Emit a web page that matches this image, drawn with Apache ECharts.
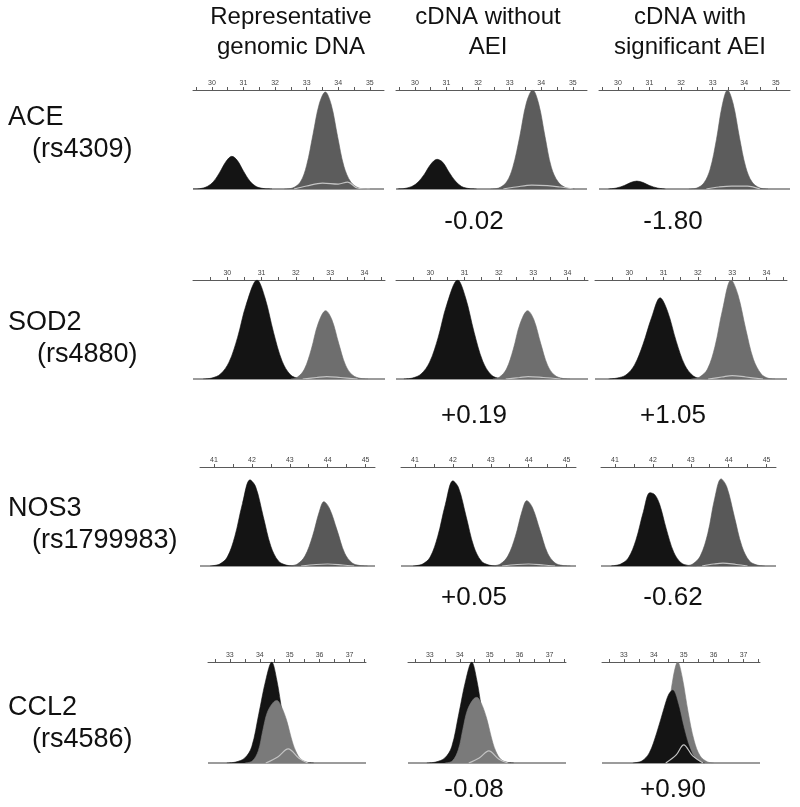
<!DOCTYPE html>
<html><head><meta charset="utf-8">
<script src="https://cdn.jsdelivr.net/npm/echarts@6/dist/echarts.min.js"></script>
<style>html,body{margin:0;padding:0;background:#fff}#c{width:800px;height:807px}</style>
</head><body><div id="c"></div><script>
// ---------- data ----------
const columns = ['Representative\ngenomic DNA', 'cDNA without\nAEI', 'cDNA with\nsignificant AEI'];
const genes = ['ACE', 'SOD2', 'NOS3', 'CCL2'];
const snps = ['(rs4309)', '(rs4880)', '(rs1799983)', '(rs4586)'];
const aeiWithout = ['-0.02', '+0.19', '+0.05', '-0.08'];
const aeiWith = ['-1.80', '+1.05', '-0.62', '+0.90'];
const axisRanges = [[29.4, 35.45], [29.0, 34.6], [40.63, 45.25], [32.27, 37.55]];
const tickLabels = [[30, 31, 32, 33, 34, 35], [30, 31, 32, 33, 34], [41, 42, 43, 44, 45], [33, 34, 35, 36, 37]];
const tickMarks = [
  [29.5, 30, 30.5, 31, 31.5, 32, 32.5, 33, 33.5, 34, 34.5, 35],
  [29.5, 30, 30.5, 31, 31.5, 32, 32.5, 33, 33.5, 34, 34.5],
  [41, 41.5, 42, 42.5, 43, 43.5, 44, 44.5, 45],
  [32.5, 33, 33.5, 34, 34.5, 35, 35.5, 36, 36.5, 37, 37.5]
];

// ACE (rs4309)
const aceGenBlack = [[29.4,0],[29.6,0.003],[29.85,0.025],[30.05,0.075],[30.25,0.17],[30.45,0.28],[30.63,0.33],[30.8,0.29],[31.0,0.18],[31.2,0.08],[31.4,0.025],[31.65,0.004],[31.9,0]];
const aceGenGrey = [[32.3,0],[32.55,0.01],[32.8,0.07],[33.0,0.24],[33.2,0.55],[33.4,0.86],[33.59,0.98],[33.78,0.85],[33.98,0.53],[34.18,0.23],[34.4,0.07],[34.65,0.01],[34.9,0]];
const aceGenLight = [[32.6,0],[33.0,0.03],[33.5,0.06],[34.0,0.05],[34.3,0.07],[34.6,0.01],[35.0,0]];
const aceNoBlack = [[29.45,0],[29.65,0.004],[29.9,0.025],[30.1,0.07],[30.3,0.15],[30.5,0.25],[30.7,0.30],[30.88,0.27],[31.08,0.17],[31.28,0.08],[31.48,0.025],[31.72,0.004],[31.95,0]];
const aceNoGrey = [[32.4,0],[32.65,0.01],[32.9,0.07],[33.1,0.22],[33.32,0.53],[33.53,0.87],[33.73,1.0],[33.92,0.86],[34.12,0.53],[34.32,0.22],[34.54,0.07],[34.8,0.01],[35.05,0]];
const aceNoLight = [[32.8,0],[33.2,0.02],[33.7,0.04],[34.2,0.035],[34.6,0.02],[35.0,0]];
const aceSigBlack = [[29.7,0],[29.95,0.01],[30.2,0.035],[30.4,0.065],[30.6,0.08],[30.8,0.065],[31.0,0.035],[31.25,0.01],[31.5,0]];
const aceSigGrey = [[32.25,0],[32.5,0.01],[32.72,0.06],[32.92,0.2],[33.12,0.5],[33.3,0.84],[33.47,1.0],[33.65,0.86],[33.85,0.52],[34.05,0.22],[34.25,0.07],[34.5,0.01],[34.75,0]];
const aceSigLight = [[32.8,0],[33.2,0.02],[33.6,0.03],[34.1,0.03],[34.5,0]];

// SOD2 (rs4880)
const sodGenBlack = [[29.3,0],[29.55,0.01],[29.8,0.05],[30.05,0.17],[30.3,0.42],[30.55,0.75],[30.87,1.0],[31.1,0.82],[31.35,0.47],[31.6,0.18],[31.85,0.04],[32.1,0.005],[32.3,0]];
const sodGenGrey = [[31.85,0],[32.05,0.02],[32.25,0.1],[32.45,0.3],[32.65,0.56],[32.87,0.69],[33.05,0.6],[33.25,0.36],[33.45,0.14],[33.65,0.04],[33.9,0.005],[34.1,0]];
const sodGenLight = [[32.2,0],[32.6,0.015],[32.9,0.025],[33.3,0.015],[33.8,0]];
const sodNoBlack = [[29.23,0],[29.48,0.01],[29.73,0.05],[29.98,0.17],[30.23,0.42],[30.48,0.75],[30.8,1.0],[31.03,0.82],[31.28,0.47],[31.53,0.18],[31.78,0.04],[32.03,0.005],[32.23,0]];
const sodNoGrey = [[31.82,0],[32.02,0.02],[32.22,0.1],[32.42,0.3],[32.62,0.56],[32.84,0.69],[33.02,0.6],[33.22,0.36],[33.42,0.14],[33.62,0.04],[33.87,0.005],[34.07,0]];
const sodNoLight = [[32.2,0],[32.6,0.015],[32.85,0.025],[33.3,0.015],[33.8,0]];
const sodSigBlack = [[29.4,0],[29.65,0.01],[29.9,0.04],[30.15,0.14],[30.4,0.35],[30.65,0.62],[30.9,0.82],[31.12,0.68],[31.37,0.38],[31.62,0.14],[31.87,0.03],[32.1,0.004],[32.3,0]];
const sodSigGrey = [[31.8,0],[32.05,0.02],[32.28,0.1],[32.5,0.33],[32.72,0.7],[32.97,1.0],[33.17,0.85],[33.4,0.5],[33.62,0.2],[33.85,0.05],[34.05,0.008],[34.25,0]];
const sodSigLight = [[32.3,0],[32.7,0.02],[33.0,0.035],[33.4,0.02],[33.9,0]];

// NOS3 (rs1799983)
const nosGenBlack = [[40.9,0],[41.15,0.02],[41.35,0.09],[41.55,0.3],[41.75,0.63],[41.95,0.87],[42.1,0.8],[42.3,0.5],[42.5,0.2],[42.7,0.05],[42.9,0.01],[43.1,0]];
const nosGenGrey = [[43.0,0],[43.2,0.02],[43.4,0.1],[43.6,0.3],[43.78,0.55],[43.9,0.65],[44.05,0.58],[44.25,0.36],[44.45,0.13],[44.65,0.03],[44.85,0.005],[45.05,0]];
const nosGenLight = [[43.3,0],[43.7,0.015],[44.0,0.02],[44.4,0.01],[44.7,0]];
const nosNoBlack = [[40.95,0],[41.2,0.02],[41.4,0.09],[41.6,0.3],[41.8,0.62],[42.0,0.86],[42.15,0.79],[42.35,0.5],[42.55,0.2],[42.75,0.05],[42.95,0.01],[43.15,0]];
const nosNoGrey = [[43.05,0],[43.25,0.02],[43.45,0.1],[43.65,0.3],[43.83,0.56],[43.95,0.66],[44.1,0.59],[44.3,0.36],[44.5,0.13],[44.7,0.03],[44.9,0.005],[45.1,0]];
const nosNoLight = [[43.3,0],[43.7,0.015],[44.0,0.02],[44.4,0.01],[44.7,0]];
const nosSigBlack = [[40.9,0],[41.15,0.02],[41.35,0.08],[41.55,0.26],[41.75,0.55],[41.92,0.74],[42.05,0.72],[42.18,0.62],[42.35,0.38],[42.55,0.14],[42.75,0.03],[42.95,0.005],[43.15,0]];
const nosSigGrey = [[42.85,0],[43.05,0.02],[43.25,0.1],[43.45,0.33],[43.63,0.68],[43.8,0.88],[43.95,0.8],[44.15,0.5],[44.35,0.2],[44.55,0.05],[44.75,0.01],[44.95,0]];
const nosSigLight = [[43.3,0],[43.6,0.02],[43.85,0.03],[44.2,0.015],[44.5,0]];

// CCL2 (rs4586)
const cclGenBlack = [[32.9,0],[33.2,0.01],[33.5,0.05],[33.73,0.16],[33.97,0.49],[34.2,0.82],[34.4,1.0],[34.57,0.82],[34.75,0.5],[34.95,0.2],[35.2,0.05],[35.5,0.01],[35.8,0]];
const cclGenGrey = [[33.5,0],[33.75,0.02],[33.95,0.12],[34.1,0.32],[34.25,0.5],[34.45,0.6],[34.57,0.62],[34.72,0.56],[34.9,0.42],[35.05,0.25],[35.2,0.12],[35.4,0.03],[35.7,0]];
const cclGenLight = [[34.2,0],[34.6,0.06],[34.95,0.14],[35.3,0.05],[35.6,0]];
const cclNoBlack = [[32.9,0],[33.2,0.01],[33.5,0.05],[33.73,0.16],[33.97,0.49],[34.2,0.82],[34.4,1.0],[34.57,0.82],[34.75,0.5],[34.95,0.2],[35.2,0.05],[35.5,0.01],[35.8,0]];
const cclNoGrey = [[33.5,0],[33.75,0.02],[33.95,0.13],[34.1,0.33],[34.25,0.52],[34.45,0.63],[34.57,0.65],[34.72,0.59],[34.9,0.44],[35.05,0.26],[35.2,0.12],[35.4,0.03],[35.7,0]];
const cclNoLight = [[34.3,0],[34.65,0.05],[34.97,0.12],[35.3,0.04],[35.6,0]];
const cclSigBlack = [[33.3,0],[33.6,0.02],[33.85,0.1],[34.1,0.3],[34.35,0.55],[34.5,0.68],[34.63,0.72],[34.8,0.6],[35.0,0.35],[35.2,0.15],[35.4,0.04],[35.7,0]];
const cclSigGrey = [[33.7,0],[33.95,0.03],[34.2,0.15],[34.45,0.45],[34.65,0.85],[34.8,1.0],[34.95,0.85],[35.15,0.5],[35.35,0.22],[35.55,0.07],[35.8,0.01],[36.0,0]];
const cclSigLight = [[34.4,0],[34.75,0.08],[35.0,0.18],[35.3,0.07],[35.65,0]];

// ---------- layout / style ----------
const FONT = '"Liberation Sans", Arial, Helvetica, sans-serif';
const rowTop = [90, 280, 467, 662];
const rowHeight = [99, 99, 99, 101];
const panelLeft = [[193, 396, 599], [193, 396, 595], [200, 401, 601], [208, 408, 602]];
const panelWidth = [191, 192, 175, 158];
const greyColor = ['#5c5c5c', '#6e6e6e', '#585858', '#7a7a7a'];
const headerX = [291, 488, 690];
const geneY = [118, 323, 509, 708];
const snpX = [32, 37, 32, 32];
const valueX = [474, 673];
const valueY = [222, 416, 598, 790];

// draw order per panel (row-major)
const panels = [
  [['black', aceGenBlack], ['grey', aceGenGrey], ['light', aceGenLight]],
  [['black', aceNoBlack], ['grey', aceNoGrey], ['light', aceNoLight]],
  [['black', aceSigBlack], ['grey', aceSigGrey], ['light', aceSigLight]],
  [['black', sodGenBlack], ['grey', sodGenGrey], ['light', sodGenLight]],
  [['black', sodNoBlack], ['grey', sodNoGrey], ['light', sodNoLight]],
  [['black', sodSigBlack], ['grey', sodSigGrey], ['light', sodSigLight]],
  [['black', nosGenBlack], ['grey', nosGenGrey], ['light', nosGenLight]],
  [['black', nosNoBlack], ['grey', nosNoGrey], ['light', nosNoLight]],
  [['black', nosSigBlack], ['grey', nosSigGrey], ['light', nosSigLight]],
  [['black', cclGenBlack], ['grey', cclGenGrey], ['light', cclGenLight]],
  [['black', cclNoBlack], ['grey', cclNoGrey], ['light', cclNoLight]],
  [['grey', cclSigGrey], ['black', cclSigBlack], ['light', cclSigLight]]
];

const grid = [], xAxis = [], yAxis = [], series = [];
for (let r = 0; r < 4; r++) {
  for (let c = 0; c < 3; c++) {
    const p = r * 3 + c;
    grid.push({ left: panelLeft[r][c], top: rowTop[r], width: panelWidth[r], height: rowHeight[r] });
    xAxis.push({
      type: 'value', gridIndex: p, position: 'top',
      min: axisRanges[r][0], max: axisRanges[r][1],
      axisLine: { show: true, onZero: false, lineStyle: { color: '#5a5a5a', width: 1 } },
      axisTick: { show: true, customValues: tickMarks[r], length: 3, lineStyle: { color: '#5a5a5a' } },
      axisLabel: { show: true, customValues: tickLabels[r], fontSize: 7, color: '#444', margin: 3, fontFamily: FONT },
      splitLine: { show: false }
    });
    yAxis.push({ type: 'value', gridIndex: p, min: 0, max: 1, show: false, splitLine: { show: false } });
    panels[p].forEach(([kind, data], k) => {
      const col = kind === 'black' ? '#141414' : kind === 'grey' ? greyColor[r] : '#c4c4c4';
      const s = {
        type: 'line', xAxisIndex: p, yAxisIndex: p, data: data, smooth: 0.35,
        showSymbol: false, symbol: 'none', silent: true, z: 2 + k,
        lineStyle: { color: col, width: kind === 'light' ? 1.2 : 0.6 }
      };
      if (kind !== 'light') s.areaStyle = { color: col, opacity: 1, origin: 0 };
      series.push(s);
    });
    series.push({
      type: 'line', xAxisIndex: p, yAxisIndex: p, symbol: 'none', silent: true, z: 1,
      data: [[axisRanges[r][0], 0], [axisRanges[r][1], 0]],
      lineStyle: { color: '#9c9c9c', width: 2 }
    });
  }
}

const graphic = [];
columns.forEach((t, i) => graphic.push({
  type: 'text', x: headerX[i], y: 32, silent: true,
  style: { text: t, align: 'center', verticalAlign: 'middle', font: '24px ' + FONT, lineHeight: 30, fill: '#111' }
}));
genes.forEach((g, i) => {
  graphic.push({ type: 'text', x: 8, y: geneY[i], silent: true,
    style: { text: g, align: 'left', verticalAlign: 'middle', font: '27px ' + FONT, fill: '#111' } });
  graphic.push({ type: 'text', x: snpX[i], y: geneY[i] + 32, silent: true,
    style: { text: snps[i], align: 'left', verticalAlign: 'middle', font: '27px ' + FONT, fill: '#111' } });
  graphic.push({ type: 'text', x: valueX[0], y: valueY[i], silent: true,
    style: { text: aeiWithout[i], align: 'center', verticalAlign: 'middle', font: '26px ' + FONT, fill: '#111' } });
  graphic.push({ type: 'text', x: valueX[1], y: valueY[i], silent: true,
    style: { text: aeiWith[i], align: 'center', verticalAlign: 'middle', font: '26px ' + FONT, fill: '#111' } });
});

const chart = echarts.init(document.getElementById('c'), null, { renderer: 'canvas' });
chart.setOption({
  animation: false,
  backgroundColor: '#fff',
  grid, xAxis, yAxis, series, graphic
});
</script></body></html>
